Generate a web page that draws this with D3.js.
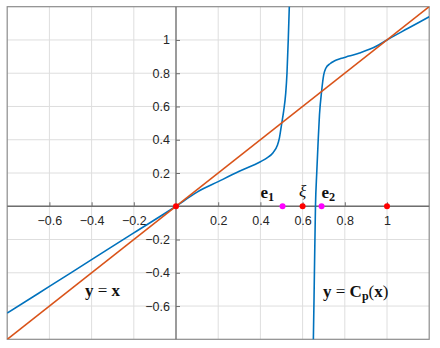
<!DOCTYPE html>
<meta charset="utf-8">
<title>Cp(x)</title>
<script src="https://cdn.jsdelivr.net/npm/d3@7"></script>
<style>
  html,body{margin:0;background:#fff}
  svg{display:block}
  .tick text{font:12.5px "Liberation Sans",Arial,sans-serif;fill:#262626}
  .lbl{font-family:"Liberation Serif","DejaVu Serif",serif;fill:#111}
</style>
<svg width="440" height="348"></svg>
<script>
// ---- data ----
const xTicks = [-0.6,-0.4,-0.2,0.2,0.4,0.6,0.8,1];
const yTicks = [1,0.8,0.6,0.4,0.2,-0.2,-0.4,-0.6];
const gridX  = [-0.6,-0.4,-0.2,0,0.2,0.4,0.6,0.8,1];
const gridY  = [-0.6,-0.4,-0.2,0,0.2,0.4,0.6,0.8,1];

// left branch of y = Cp(x)
const cp1X = [-0.8,-0.6,-0.4,-0.2,0,0.1,0.2,0.3,0.4,0.43,0.46,0.48,0.49,0.5,0.51,0.52,0.526,0.532,0.537,0.541];
const cp1Y = [-0.643,-0.482,-0.321,-0.16,0,0.085,0.148,0.21,0.268,0.29,0.322,0.365,0.41,0.49,0.57,0.68,0.8,1.0,1.2,1.35];
// right branch of y = Cp(x)
const cp2X = [0.649,0.651,0.656,0.661,0.667,0.674,0.68,0.69,0.7,0.71,0.73,0.75,0.78,0.82,0.87,0.92,0.96,1.0,1.1,1.2];
const cp2Y = [-0.9,-0.8,-0.4,0,0.2,0.4,0.55,0.69,0.79,0.83,0.857,0.873,0.888,0.903,0.922,0.945,0.97,1.0,1.07,1.14];
// y = x
const idX = [-0.8,1.2];

const redPts = [0,0.6,1];      // fixed points on the x axis
const magPts = [0.505,0.69];   // e1, e2

const svg = d3.select('svg');
const x = d3.scaleLinear().domain([-0.8,1.2]).range([7.2,429.2]);
const y = d3.scaleLinear().domain([-0.8,1.2]).range([339.3,6.7]);
const [X0,X1] = x.range(), [Y1,Y0] = y.range();

svg.append('clipPath').attr('id','clip')
  .append('rect').attr('x',X0).attr('y',Y0).attr('width',X1-X0).attr('height',Y1-Y0);

/* grid */
const g = svg.append('g');
g.selectAll('line.gx').data(gridX).join('line')
  .attr('x1',d=>x(d)).attr('x2',d=>x(d)).attr('y1',Y0).attr('y2',Y1)
  .attr('stroke','#dedede').attr('stroke-width',1);
g.selectAll('line.gy').data(gridY).join('line')
  .attr('y1',d=>y(d)).attr('y2',d=>y(d)).attr('x1',X0).attr('x2',X1)
  .attr('stroke','#dedede').attr('stroke-width',1);

/* box */
svg.append('rect').attr('x',X0).attr('y',Y0).attr('width',X1-X0).attr('height',Y1-Y0)
  .attr('fill','none').attr('stroke','#8c8c8c').attr('stroke-width',1.2);

/* axes through origin */
const ax = svg.append('g').attr('transform',`translate(0,${y(0)})`)
  .call(d3.axisTop(x).tickValues(xTicks).tickSize(4).tickFormat(d3.format('')));
ax.select('.domain').remove();
ax.selectAll('.tick line').attr('stroke','#6e6e6e');
ax.selectAll('.tick text').attr('dy',null).attr('y',19);
svg.append('line').attr('x1',X0).attr('x2',X1).attr('y1',y(0)).attr('y2',y(0))
  .attr('stroke','#6e6e6e').attr('stroke-width',1.3);

const ay = svg.append('g').attr('transform',`translate(${x(0)},0)`)
  .call(d3.axisRight(y).tickValues(yTicks).tickSize(4).tickFormat(d3.format('')));
ay.select('.domain').remove();
ay.selectAll('.tick line').attr('stroke','#6e6e6e');
ay.selectAll('.tick text').attr('x',-6).attr('text-anchor','end');
svg.append('line').attr('y1',Y0).attr('y2',Y1).attr('x1',x(0)).attr('x2',x(0))
  .attr('stroke','#6e6e6e').attr('stroke-width',1.3);

/* curves */
const line = d3.line().x(d=>x(d[0])).y(d=>y(d[1])).curve(d3.curveMonotoneX);
const plot = svg.append('g').attr('clip-path','url(#clip)');
plot.append('path').datum(d3.zip(cp1X,cp1Y))
  .attr('d',line).attr('fill','none').attr('stroke','#0072BD').attr('stroke-width',1.6);
plot.append('path').datum(d3.zip(cp2X,cp2Y))
  .attr('d',line).attr('fill','none').attr('stroke','#0072BD').attr('stroke-width',1.6);
plot.append('path').datum(idX.map(v=>[v,v]))
  .attr('d',d3.line().x(d=>x(d[0])).y(d=>y(d[1])))
  .attr('fill','none').attr('stroke','#D95319').attr('stroke-width',1.5);

/* points */
svg.selectAll('circle.m').data(magPts).join('circle')
  .attr('cx',d=>x(d)).attr('cy',y(0)).attr('r',3).attr('fill','#ff00ff');
svg.selectAll('circle.r').data(redPts).join('circle')
  .attr('cx',d=>x(d)).attr('cy',y(0)).attr('r',3).attr('fill','#ff0000');

/* labels */
function sub(base, s, px, py, size){
  const tx = svg.append('text').attr('class','lbl').attr('x',px).attr('y',py)
    .attr('font-size',size).attr('font-weight','bold');
  tx.append('tspan').text(base);
  tx.append('tspan').attr('font-size',size*0.72).attr('dy',3).text(s);
  return tx;
}
sub('e','1',260.5,197.5,17);
sub('e','2',321.5,197.5,17);
svg.append('text').attr('class','lbl').attr('x',x(0.6)).attr('y',197)
  .attr('text-anchor','middle').attr('font-size',17).attr('font-style','italic').text('ξ');

const sp = '\u2005=\u2005';
const l1 = svg.append('text').attr('class','lbl').attr('x',85).attr('y',296).attr('font-size',17);
l1.append('tspan').attr('font-weight','bold').text('y');
l1.append('tspan').text(sp);
l1.append('tspan').attr('font-weight','bold').text('x');

const l2 = svg.append('text').attr('class','lbl').attr('x',323).attr('y',297).attr('font-size',17);
l2.append('tspan').attr('font-weight','bold').text('y');
l2.append('tspan').text(sp);
l2.append('tspan').attr('font-weight','bold').text('C');
l2.append('tspan').attr('font-weight','bold').attr('font-size',12).attr('dy',3).text('p');
l2.append('tspan').attr('dy',-3).text('(');
l2.append('tspan').attr('font-weight','bold').text('x');
l2.append('tspan').text(')');
</script>
